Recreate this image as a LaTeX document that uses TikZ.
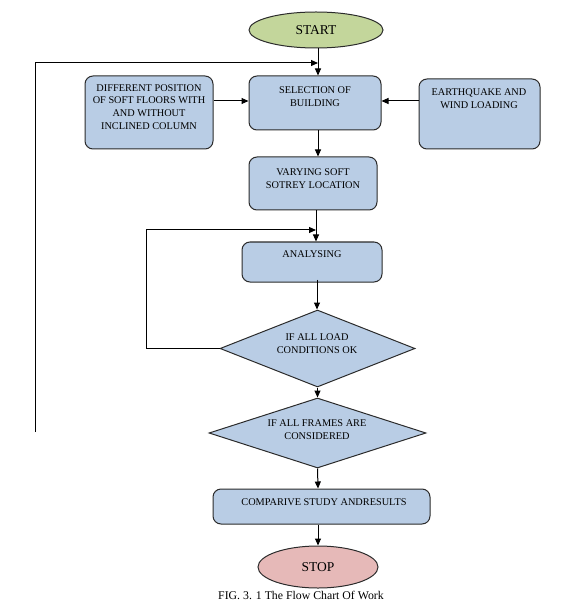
\documentclass[tikz,border=0pt]{standalone}
\usepackage{fontspec}
\setmainfont{Liberation Serif}
\usetikzlibrary{shapes.geometric,arrows.meta}
\definecolor{boxblue}{HTML}{B9CDE5}
\definecolor{startgreen}{HTML}{C3D69B}
\definecolor{stoppink}{HTML}{E6B9B8}
\definecolor{edge}{HTML}{2B2B2B}
\tikzset{
  boxnode/.style={draw=edge, line width=1pt, fill=boxblue, rounded corners=8pt, inner sep=0pt},
  decision/.style={diamond, draw=edge, line width=1pt, fill=boxblue, inner sep=0pt},
  terminal/.style={ellipse, draw=edge, line width=1pt, inner sep=0pt},
  txt/.style={align=center, inner sep=0pt, font=\fontsize{10.3}{12.8}\selectfont},
  bigtxt/.style={inner sep=0pt, font=\fontsize{13.5}{15}\selectfont},
  conn/.style={draw=black, line width=1pt, -{Triangle[length=7pt,width=6pt]}},
  plain/.style={draw=black, line width=1pt}
}
\begin{document}
\begin{tikzpicture}[x=1pt,y=-1pt]
\useasboundingbox (0,0) rectangle (565,609);
% shapes
\node[terminal, fill=startgreen, minimum width=134pt, minimum height=36pt] (start) at (316,30) {};
\node[boxnode, minimum width=132pt, minimum height=54pt] (sel) at (315,103) {};
\node[boxnode, minimum width=128pt, minimum height=73pt] (left) at (149,112.5) {};
\node[boxnode, minimum width=121pt, minimum height=70pt] (right) at (479.5,114) {};
\node[boxnode, minimum width=128pt, minimum height=53pt] (vary) at (313,183.5) {};
\node[boxnode, minimum width=140pt, minimum height=40pt] (anal) at (312,262) {};
\node[decision, minimum width=195pt, minimum height=77pt] (d1) at (317.5,348.5) {};
\node[decision, minimum width=217pt, minimum height=70pt] (d2) at (317.5,433) {};
\node[boxnode, minimum width=217pt, minimum height=35pt] (comp) at (321.5,506.5) {};
\node[terminal, fill=stoppink, minimum width=120pt, minimum height=42pt] (stop) at (318,567) {};
% texts
\node[bigtxt] (startt) at (316,30) {START};
\node[txt] (selt) at (315,96.5) {SELECTION OF\\BUILDING};
\node[txt] (leftt) at (149,107) {DIFFERENT POSITION\\OF SOFT FLOORS WITH\\AND WITHOUT\\INCLINED COLUMN};
\node[txt] (rightt) at (479,99) {EARTHQUAKE AND\\WIND LOADING};
\node[txt] (varyt) at (313,178.5) {VARYING SOFT\\SOTREY LOCATION};
\node[txt] (analt) at (312,254) {ANALYSING};
\node[txt] (d1t) at (317,343.5) {IF ALL LOAD\\CONDITIONS OK};
\node[txt] (d2t) at (317,429.5) {IF ALL FRAMES ARE\\CONSIDERED};
\node[txt] (compt) at (324,502) {COMPARIVE STUDY ANDRESULTS};
\node[inner sep=0pt, font=\fontsize{11.8}{13}\selectfont] (caption) at (301,595) {FIG. 3. 1 The Flow Chart Of Work};
\node[bigtxt] (stopt) at (318,567) {STOP};
% junction coordinates
\coordinate (j0) at (318,63);
\coordinate (fb) at (35,432);
\coordinate (j1) at (316,230);
% connectors
\draw[conn] (318,0 |- start.south) -- (318,0 |- sel.north);
\draw[conn] (left.east |- 0,101) -- (sel.west |- 0,101);
\draw[conn] (right.west |- 0,101) -- (sel.east |- 0,101);
\draw[conn] (318,0 |- sel.south) -- (318,0 |- vary.north);
\draw[conn] (316,0 |- vary.south) -- (316,0 |- anal.north);
\draw[conn] ([yshift=3pt]anal.south -| 317,0) -- (317,0 |- d1.north);
\draw[conn] (d1.west) -- (146,0 |- d1.west) |- (j1);
\draw[conn] (d1.south) -- (d2.north);
\draw[conn] (d2.south) -- (318,0 |- comp.north);
\draw[conn] (318,0 |- comp.south) -- (stop.north);
\draw[conn] (fb) |- (j0);
\end{tikzpicture}
\end{document}
